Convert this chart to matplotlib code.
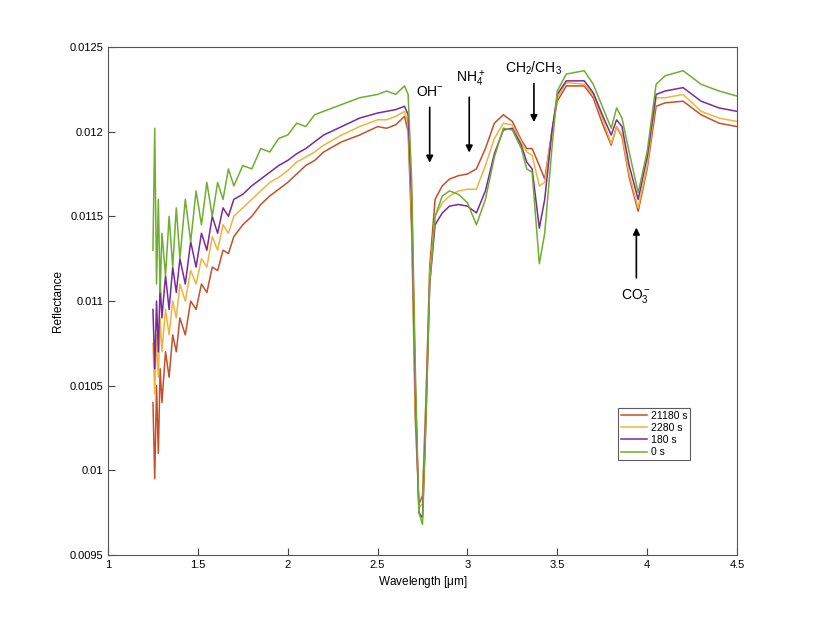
import matplotlib
matplotlib.use("Agg")
import matplotlib.pyplot as plt

plt.rcParams['font.family'] = ['Liberation Sans', 'DejaVu Sans']
plt.rcParams['mathtext.default'] = 'regular'

wavelength = [1.25,1.26,1.27,1.28,1.29,1.30,1.32,1.34,1.36,1.38,1.40,1.43,1.46,1.49,1.52,1.55,1.58,1.61,1.64,1.67,1.70,1.75,1.80,1.85,1.90,1.95,2.0,2.05,2.1,2.15,2.2,2.3,2.4,2.5,2.55,2.6,2.65,
              2.67,2.69,2.71,2.73,2.75,2.77,2.79,2.82,2.86,2.9,2.95,3.0,3.05,3.1,3.15,3.2,3.25,3.3,3.33,3.36,3.4,3.43,3.47,3.5,3.55,3.65,3.7,3.75,3.8,3.83,3.86,3.9,3.95,4.0,4.05,4.1,4.2,4.3,4.4,4.5]

r_0s = [0.01130,0.01202,0.01110,0.01160,0.01105,0.01140,0.01115,0.01150,0.01120,0.01155,0.01125,0.01160,0.01135,0.01165,0.01145,0.01170,0.01150,0.01170,0.01160,0.01178,0.01168,0.01180,0.01178,0.01190,0.01188,0.01196,0.01198,0.01205,0.01203,0.01210,0.01212,0.01216,0.01220,0.01222,0.01224,0.01222,0.01227,
        0.01222,0.01170,0.01060,0.00975,0.00968,0.01030,0.01110,0.01150,0.01162,0.01165,0.01163,0.01158,0.01145,0.01160,0.01185,0.01202,0.01201,0.01190,0.01178,0.01176,0.01122,0.01140,0.01190,0.01224,0.01234,0.01236,0.01228,0.01215,0.01202,0.01214,0.01208,0.01188,0.01164,0.01188,0.01228,0.01233,0.01236,0.01228,0.01224,0.01221]
r_180s = [0.01095,0.01060,0.01100,0.01070,0.01110,0.01090,0.01115,0.01095,0.01120,0.01105,0.01125,0.01110,0.01135,0.01120,0.01140,0.01130,0.01150,0.01140,0.01155,0.01150,0.01160,0.01163,0.01168,0.01172,0.01176,0.01180,0.01183,0.01187,0.01190,0.01194,0.01198,0.01203,0.01208,0.01211,0.01212,0.01213,0.01215,
          0.01210,0.01160,0.01050,0.00975,0.00972,0.01035,0.01110,0.01145,0.01152,0.01156,0.01157,0.01156,0.01152,0.01165,0.01187,0.01201,0.01202,0.01192,0.01182,0.01178,0.01143,0.01160,0.01200,0.01222,0.01230,0.01230,0.01223,0.01210,0.01198,0.01207,0.01203,0.01180,0.01160,0.01185,0.01222,0.01224,0.01226,0.01218,0.01214,0.01212]
r_2280s = [0.01075,0.01045,0.01080,0.01055,0.01090,0.01070,0.01095,0.01080,0.01100,0.01090,0.01110,0.01100,0.01118,0.01110,0.01125,0.01120,0.01138,0.01130,0.01145,0.01140,0.01150,0.01155,0.01160,0.01165,0.01170,0.01173,0.01177,0.01182,0.01185,0.01188,0.01192,0.01198,0.01203,0.01207,0.01207,0.01209,0.01212,
           0.01205,0.01150,0.01040,0.00978,0.00980,0.01040,0.01115,0.01150,0.01158,0.01162,0.01165,0.01166,0.01166,0.01180,0.01196,0.01205,0.01204,0.01194,0.01188,0.01186,0.01168,0.01170,0.01200,0.01220,0.01229,0.01228,0.01222,0.01208,0.01193,0.01203,0.01198,0.01175,0.01155,0.01180,0.01220,0.01220,0.01222,0.01212,0.01208,0.01206]
r_21180s = [0.01040,0.00995,0.01050,0.01010,0.01060,0.01040,0.01070,0.01055,0.01080,0.01070,0.01090,0.01080,0.01100,0.01095,0.01110,0.01105,0.01120,0.01118,0.01130,0.01128,0.01138,0.01145,0.01150,0.01157,0.01162,0.01166,0.01170,0.01175,0.01180,0.01183,0.01188,0.01194,0.01198,0.01203,0.01202,0.01204,0.01209,
            0.01200,0.01140,0.01030,0.00980,0.00985,0.01045,0.01120,0.01160,0.01168,0.01172,0.01174,0.01175,0.01178,0.01190,0.01205,0.01210,0.01206,0.01195,0.01190,0.01190,0.01180,0.01172,0.01200,0.01218,0.01227,0.01227,0.01220,0.01205,0.01192,0.01203,0.01197,0.01173,0.01153,0.01178,0.01215,0.01217,0.01218,0.01210,0.01205,0.01203]

labels = ['21180 s', '2280 s', '180 s', '0 s']
colors = ['#c4502a', '#f0b43c', '#7a2a9a', '#6fae2e']
series = [r_21180s, r_2280s, r_180s, r_0s]

fig = plt.figure(figsize=(8.14, 6.24), dpi=100)
ax = fig.add_axes([0.1327, 0.1106, 0.7727, 0.8141])
for lab, c, s in zip(labels, colors, series):
    ax.plot(wavelength, s, color=c, lw=1.1, label=lab)
ax.set_xlim(1, 4.5)
ax.set_ylim(0.0095, 0.0125)
ax.set_xticks([1, 1.5, 2, 2.5, 3, 3.5, 4, 4.5])
ax.set_xticklabels(['1', '1.5', '2', '2.5', '3', '3.5', '4', '4.5'])
ax.set_yticks([0.0095, 0.01, 0.0105, 0.011, 0.0115, 0.012, 0.0125])
ax.set_yticklabels(['0.0095', '0.01', '0.0105', '0.011', '0.0115', '0.012', '0.0125'])
ax.tick_params(direction='in', labelsize=8, color='#444444', top=False, right=False, length=5)
for sp in ax.spines.values():
    sp.set_color('#555555')
ax.set_xlabel(r'Wavelength [$\mu$m]', fontsize=8.5, labelpad=3)
ax.set_ylabel('Reflectance', fontsize=8.5)

leg = ax.legend(loc='upper left', bbox_to_anchor=(0.803, 0.3), fontsize=7.5, frameon=True,
                fancybox=False, edgecolor='#333333', handlelength=2.5, borderpad=0.3,
                labelspacing=0.2, handletextpad=0.3)
leg.get_frame().set_linewidth(0.8)

ap = dict(arrowstyle='-|>', color='black', lw=1.2, mutation_scale=10)
ax.annotate('', xy=(2.79, 0.0118), xytext=(2.79, 0.01216), arrowprops=ap)
ax.text(2.79, 0.01219, r'OH$^{-}$', ha='center', va='bottom', fontsize=10)
ax.annotate('', xy=(3.01, 0.01186), xytext=(3.01, 0.01222), arrowprops=ap)
ax.text(3.02, 0.01225, r'NH$_4^+$', ha='center', va='bottom', fontsize=10)
ax.annotate('', xy=(3.37, 0.01204), xytext=(3.37, 0.01230), arrowprops=ap)
ax.text(3.37, 0.01232, r'CH$_2$/CH$_3$', ha='center', va='bottom', fontsize=10)
ax.annotate('', xy=(3.94, 0.01145), xytext=(3.94, 0.01112), arrowprops=ap)
ax.text(3.94, 0.01108, r'CO$_3^-$', ha='center', va='top', fontsize=10)

fig.savefig('out.png', dpi=100)
